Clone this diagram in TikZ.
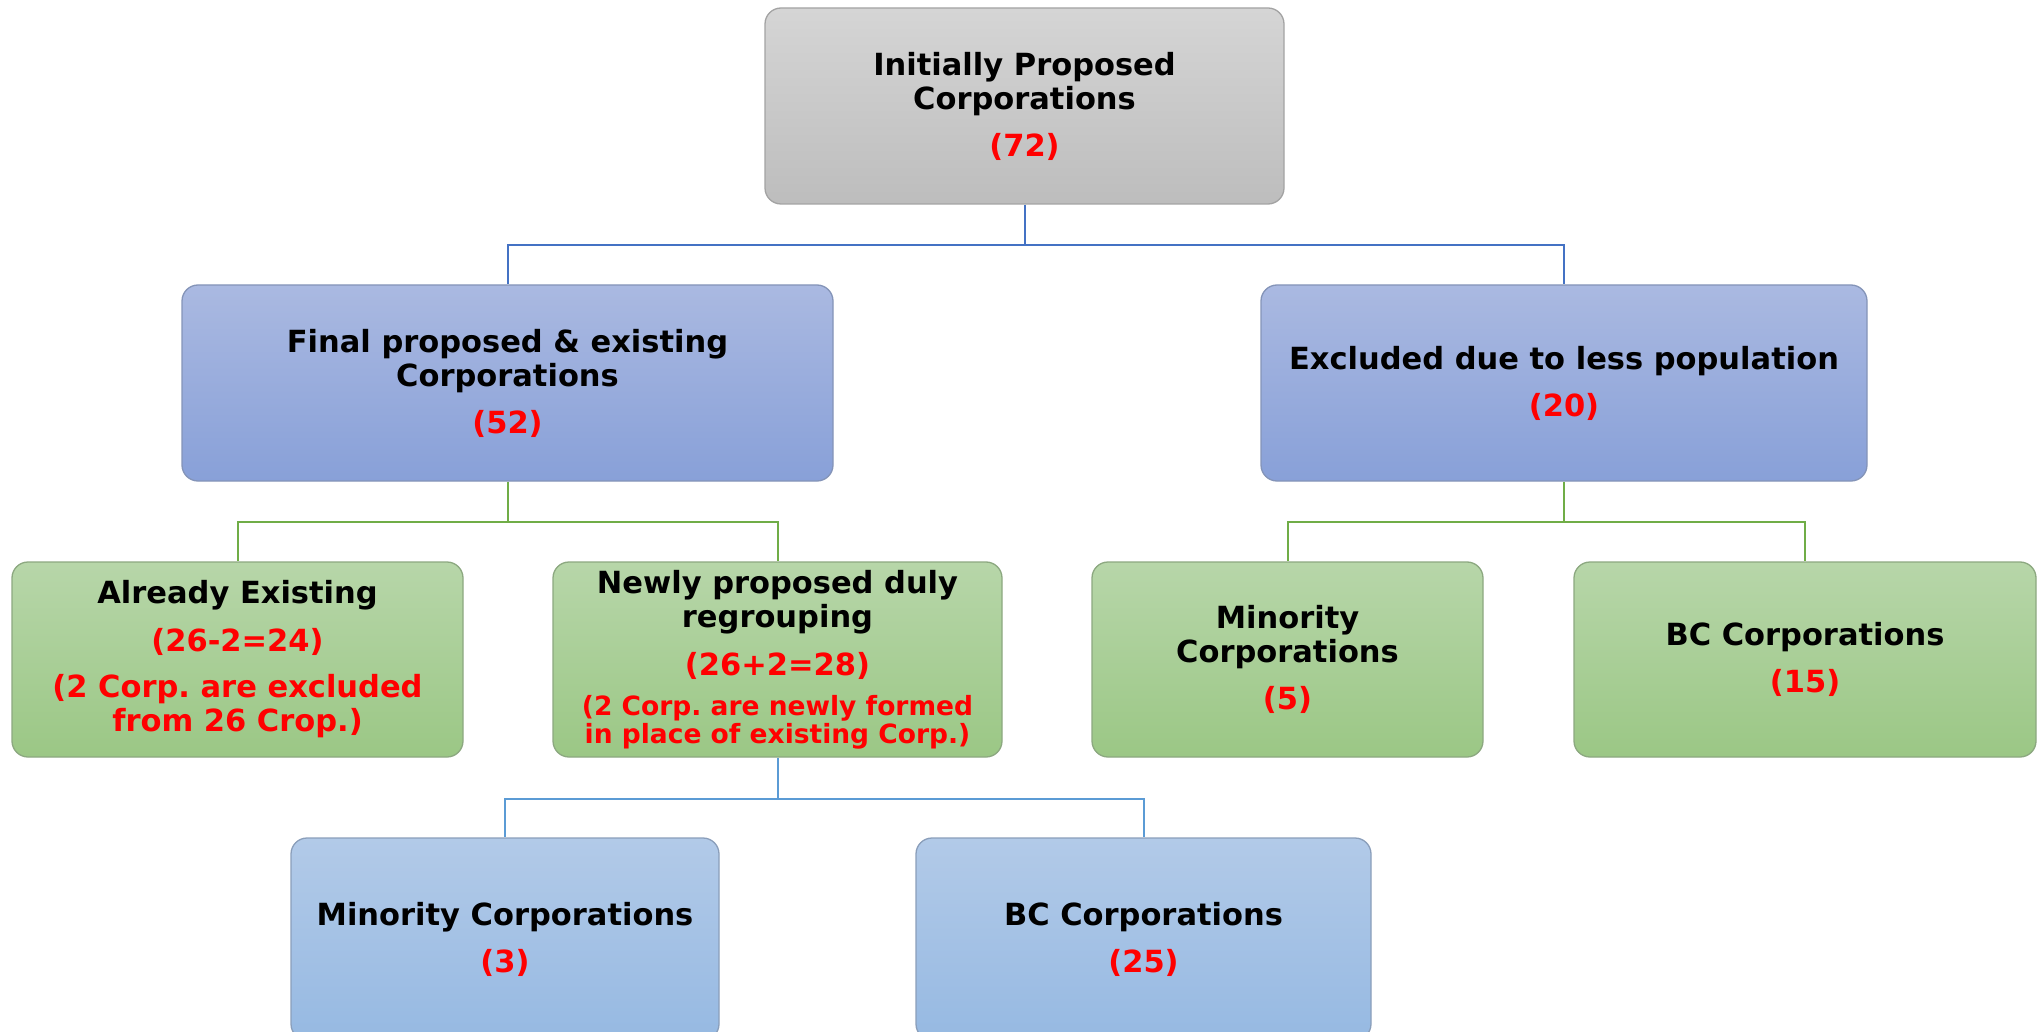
\documentclass[tikz,border=0pt]{standalone}
\usepackage{fontspec}
\setmainfont{DejaVu Sans}
\usetikzlibrary{calc}
\frenchspacing
\definecolor{redtxt}{HTML}{FF0000}
\definecolor{grayT}{HTML}{D5D5D5}
\definecolor{grayB}{HTML}{BDBDBD}
\definecolor{grayD}{HTML}{A3A3A3}
\definecolor{blueT}{HTML}{AAB9E1}
\definecolor{blueB}{HTML}{88A0D8}
\definecolor{blueD}{HTML}{8494B8}
\definecolor{greenT}{HTML}{B7D6A9}
\definecolor{greenB}{HTML}{9BC785}
\definecolor{greenD}{HTML}{8CA880}
\definecolor{lblueT}{HTML}{B2CAE8}
\definecolor{lblueB}{HTML}{96B9E2}
\definecolor{lblueD}{HTML}{8A9EBA}
\definecolor{lineBlue}{HTML}{4472C4}
\definecolor{lineGreen}{HTML}{70AD47}
\definecolor{lineLBlue}{HTML}{5B9BD5}
\newcommand{\rednum}[1]{\textcolor{redtxt}{#1}}
\newcommand{\smallred}[1]{{\fontsize{26.5}{27}\selectfont\textcolor{redtxt}{#1}}}
\begin{document}
\frenchspacing
\begin{tikzpicture}[x=1pt,y=-1pt,
  box/.style={rectangle, rounded corners=16pt, line width=1.3pt, align=center,
    inner sep=0pt, font=\bfseries\fontsize{30.5}{34}\selectfont},
  graybox/.style={box, draw=grayD, top color=grayT, bottom color=grayB},
  bluebox/.style={box, draw=blueD, top color=blueT, bottom color=blueB},
  greenbox/.style={box, draw=greenD, top color=greenT, bottom color=greenB},
  lbluebox/.style={box, draw=lblueD, top color=lblueT, bottom color=lblueB},
  conn/.style={line width=2pt}
]
\useasboundingbox (0,0) rectangle (2040,1032);
\clip (0,0) rectangle (2040,1032);

\node[graybox, minimum width=519pt, minimum height=196pt] (top) at (1024.5,106)
  {Initially Proposed\\Corporations\\[13pt]\rednum{(72)}};

\node[bluebox, minimum width=651pt, minimum height=196pt] (fin) at (507.5,383)
  {Final proposed \& existing\\Corporations\\[13pt]\rednum{(52)}};
\node[bluebox, minimum width=606pt, minimum height=196pt] (exc) at (1564,383)
  {Excluded due to less population\\[13pt]\rednum{(20)}};

\node[greenbox, minimum width=451pt, minimum height=195pt] (ae) at (237.5,659.5)
  {Already Existing\\[14pt]\rednum{(26-2=24)}\\[12pt]
   \rednum{(2 Corp. are excluded}\\\rednum{from 26 Crop.)}};
\node[greenbox, minimum width=449pt, minimum height=195pt] (np) at (777.5,659.5)
  {Newly proposed duly\\regrouping\\[14pt]\rednum{(26+2=28)}\\[6pt]
   \smallred{(2 Corp. are newly formed}\\[-6pt]\smallred{in place of existing Corp.)}};
\node[greenbox, minimum width=391pt, minimum height=195pt] (mg) at (1287.5,659.5)
  {Minority\\Corporations\\[13pt]\rednum{(5)}};
\node[greenbox, minimum width=462pt, minimum height=195pt] (bg) at (1805,659.5)
  {BC Corporations\\[13pt]\rednum{(15)}};

\node[lbluebox, minimum width=428pt, minimum height=202pt] (mb) at (505,939)
  {Minority Corporations\\[13pt]\rednum{(3)}};
\node[lbluebox, minimum width=455pt, minimum height=202pt] (bb) at (1143.5,939)
  {BC Corporations\\[13pt]\rednum{(25)}};

\coordinate (bus1) at (0,245);
\coordinate (bus2) at (0,522);
\coordinate (bus3) at (0,799);

\draw[conn, lineBlue] (top.south) -- (top.south |- bus1) -| (fin.north);
\draw[conn, lineBlue] (top.south |- bus1) -| (exc.north);
\draw[conn, lineGreen] (fin.south) -- (fin.south |- bus2) -| (ae.north);
\draw[conn, lineGreen] (fin.south |- bus2) -| (np.north);
\draw[conn, lineGreen] (exc.south) -- (exc.south |- bus2) -| (mg.north);
\draw[conn, lineGreen] (exc.south |- bus2) -| (bg.north);
\draw[conn, lineLBlue] (np.south) -- (np.south |- bus3) -| (mb.north);
\draw[conn, lineLBlue] (np.south |- bus3) -| (bb.north);
\end{tikzpicture}
\end{document}
